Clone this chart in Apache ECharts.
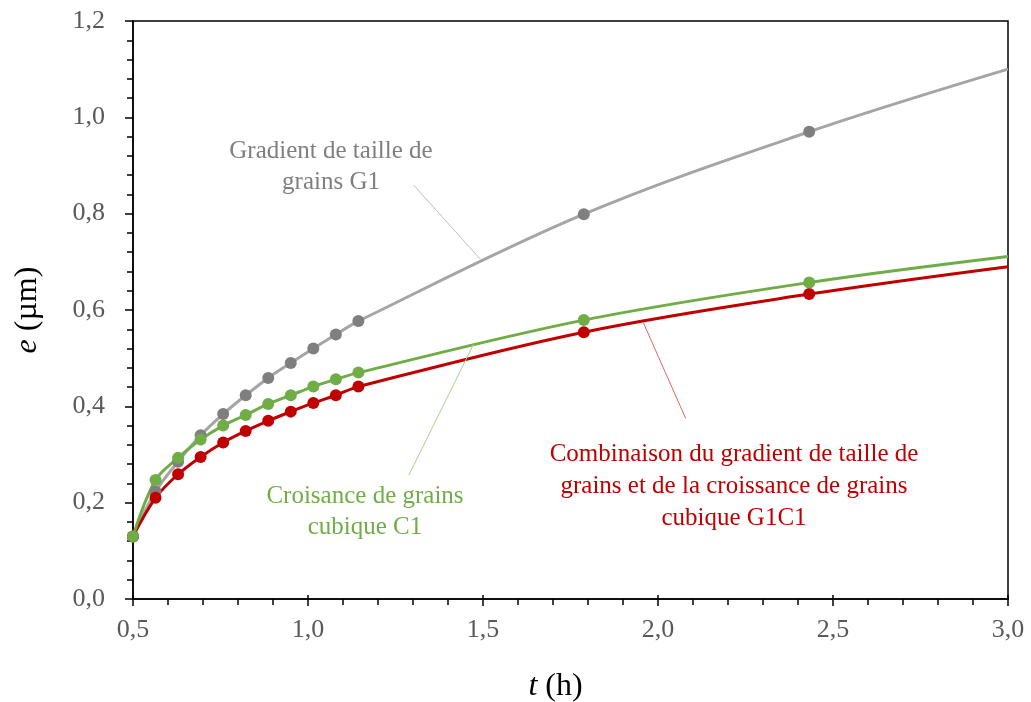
<!DOCTYPE html>
<html>
<head>
<meta charset="utf-8">
<script src="https://cdn.jsdelivr.net/npm/echarts@6/dist/echarts.min.js"></script>
<style>
html,body{margin:0;padding:0;background:#fff;}
#chart{width:1031px;height:702px;}
</style>
</head>
<body>
<div id="chart"></div>
<script>
// ---- data (t in hours, e in µm) ----
var tValues = [0.5, 0.5644, 0.6288, 0.6932, 0.7576, 0.822, 0.8864, 0.9508, 1.0152, 1.0796, 1.144, 1.788, 2.432, 3.0];
var grayG1 = [0.13, 0.223, 0.285, 0.340, 0.384, 0.423, 0.459, 0.490, 0.520, 0.549, 0.577, 0.799, 0.970, 1.100];
var greenC1 = [0.13, 0.247, 0.293, 0.331, 0.360, 0.382, 0.405, 0.423, 0.441, 0.456, 0.470, 0.579, 0.657, 0.711];
var redG1C1 = [0.13, 0.210, 0.259, 0.295, 0.325, 0.349, 0.370, 0.389, 0.407, 0.423, 0.441, 0.554, 0.633, 0.690];
// annotation leader lines (data coordinates)
var leaderG1 = [[1.302, 0.859], [1.493, 0.705]];
var leaderC1 = [[1.288, 0.257], [1.473, 0.529]];
var leaderG1C1 = [[1.958, 0.574], [2.079, 0.375]];
var labelG1 = 'Gradient de taille de\ngrains G1';
var labelC1 = 'Croisance de grains\ncubique C1';
var labelG1C1 = 'Combinaison du gradient de taille de\ngrains et de la croissance de grains\ncubique G1C1';

function pairs(ys){ return tValues.map(function(t,i){ return [t, ys[i]]; }); }
function symSize(v, p){ return p.dataIndex === tValues.length - 1 ? 0 : 12; }

var serif = '"Liberation Serif", "Times New Roman", serif';
var chart = echarts.init(document.getElementById('chart'));

function mkSeries(name, ys, lineColor, dotColor, leader, leaderColor){
  return {
    name: name, type: 'line', data: pairs(ys), smooth: 0.35,
    symbol: 'circle', symbolSize: symSize,
    lineStyle: {color: lineColor, width: 3},
    itemStyle: {color: dotColor},
    z: 3,
    markLine: {
      silent: true, symbol: ['none','none'],
      label: {show: false},
      lineStyle: {color: leaderColor, width: 1, type: 'solid'},
      data: [[{coord: leader[0]}, {coord: leader[1]}]]
    }
  };
}

function fmt(v){ return v.toFixed(1).replace('.', ','); }

chart.setOption({
  animation: false,
  backgroundColor: '#fff',
  grid: {left: 133, right: 23, top: 21, bottom: 103, containLabel: false, outerBoundsMode: 'none',
    show: true, borderColor: '#000', borderWidth: 1.5},
  xAxis: [{
    type: 'value', min: 0.5, max: 3.0, interval: 0.5,
    axisLine: {show: true, lineStyle: {color: '#000', width: 1.5}},
    axisTick: {show: true, length: 7, lineStyle: {color: '#000', width: 1.5}},
    minorTick: {show: true, splitNumber: 5, length: 6, lineStyle: {color: '#000', width: 1.5}},
    splitLine: {show: false},
    axisLabel: {fontFamily: serif, fontSize: 26, color: '#595959', margin: 18, formatter: fmt},
    name: '{i|t} (h)', nameLocation: 'middle', nameGap: 72,
    nameTextStyle: {fontFamily: serif, fontSize: 32, color: '#000', padding: [0, 30, 0, 0],
      rich: {i: {fontFamily: serif, fontSize: 32, fontStyle: 'italic', color: '#000'}}}
  }, {
    type: 'value', min: 0.5, max: 3.0, interval: 0.5, position: 'bottom',
    axisLine: {show: false}, axisLabel: {show: false}, splitLine: {show: false},
    axisTick: {show: true, inside: true, length: 4, lineStyle: {color: '#000', width: 1.5}}
  }],
  yAxis: {
    type: 'value', min: 0, max: 1.2, interval: 0.2,
    axisLine: {show: true, lineStyle: {color: '#000', width: 1.5}},
    axisTick: {show: true, length: 8, lineStyle: {color: '#000', width: 1.5}},
    minorTick: {show: true, splitNumber: 5, length: 6, lineStyle: {color: '#000', width: 1.5}},
    splitLine: {show: false},
    axisLabel: {fontFamily: serif, fontSize: 26, color: '#595959', margin: 28, formatter: fmt},
    name: '{i|e} (µm)', nameLocation: 'middle', nameGap: 89, nameRotate: 90,
    nameTextStyle: {fontFamily: serif, fontSize: 32, color: '#000',
      rich: {i: {fontFamily: serif, fontSize: 32, fontStyle: 'italic', color: '#000'}}}
  },
  series: [
    mkSeries('G1', grayG1, '#A5A5A5', '#7F7F7F', leaderG1, '#BFBFBF'),
    mkSeries('G1C1', redG1C1, '#C00000', '#C00000', leaderG1C1, '#E06666'),
    mkSeries('C1', greenC1, '#70AD47', '#70AD47', leaderC1, '#A9D18E')
  ],
  graphic: [
    {type: 'text', left: 331 - 150, top: 136, style: {text: labelG1, font: '25px ' + serif, fill: '#7F7F7F', textAlign: 'center', lineHeight: 31, width: 300}},
    {type: 'text', left: 365 - 150, top: 481, style: {text: labelC1, font: '25px ' + serif, fill: '#70AD47', textAlign: 'center', lineHeight: 31, width: 300}},
    {type: 'text', left: 734 - 250, top: 438, style: {text: labelG1C1, font: '25px ' + serif, fill: '#C00000', textAlign: 'center', lineHeight: 32, width: 500}}
  ]
});
</script>
</body>
</html>
